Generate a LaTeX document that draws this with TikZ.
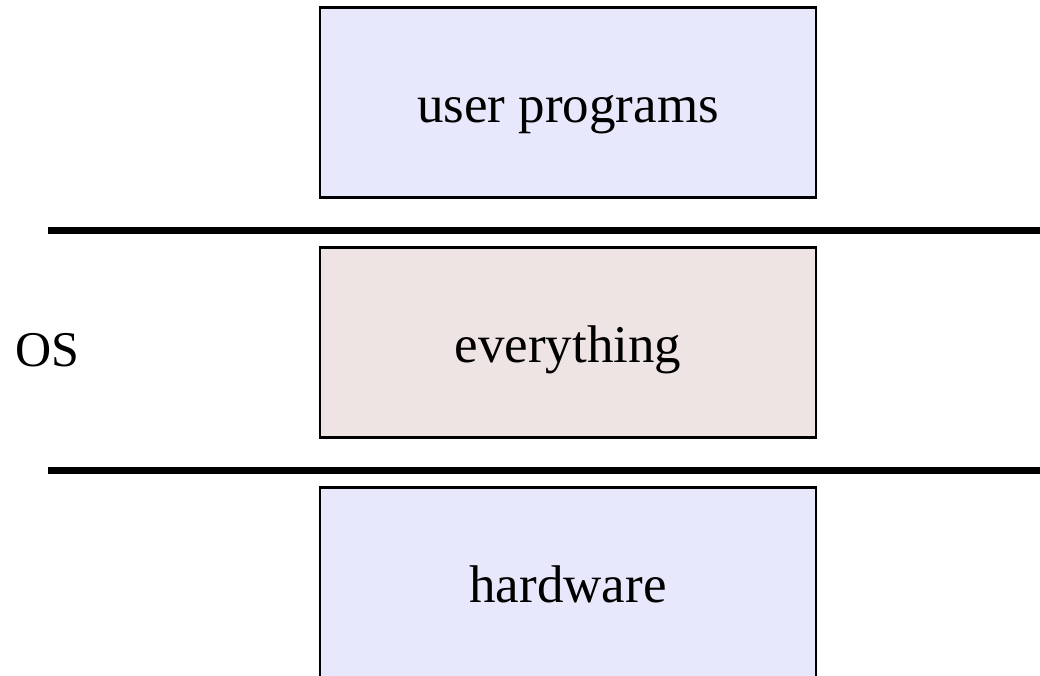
\documentclass[tikz,border=0pt]{standalone}
\usepackage{fontspec}
\setmainfont{Liberation Serif}
\usepackage{tikz}
\usetikzlibrary{positioning}
\definecolor{userblue}{RGB}{232,232,252}
\definecolor{osrose}{RGB}{238,228,228}

\begin{document}
\begin{tikzpicture}[x=1pt, y=1pt, node distance=50pt,
    layer/.style={draw, line width=2.2pt, outer sep=0pt, minimum width=496pt, minimum height=190pt,
      font=\fontsize{53}{60}\selectfont, text height=40pt, text depth=0pt},
    sep/.style={line width=7pt}]
    \clip (0,0) rectangle (1040,676);
    \node[layer, fill=userblue] (user) at (568,573.5) {user programs};
    \node[layer, below=of user, fill=osrose] (kernel) {everything};
    \node[layer, below=of kernel, fill=userblue] (hw) {hardware};
    \node[anchor=base west, inner sep=0pt, font=\fontsize{50}{56}\selectfont] (os) at (15,309) {OS};

    % separators between the layers
    \coordinate (topL) at (48,445);
    \coordinate (topR) at (1045,445);
    \coordinate (botL) at (48,205);
    \coordinate (botR) at (1045,205);
    \draw[sep] (topL) -- (topR);
    \draw[sep] (botL) -- (botR);
  \end{tikzpicture}
\end{document}
